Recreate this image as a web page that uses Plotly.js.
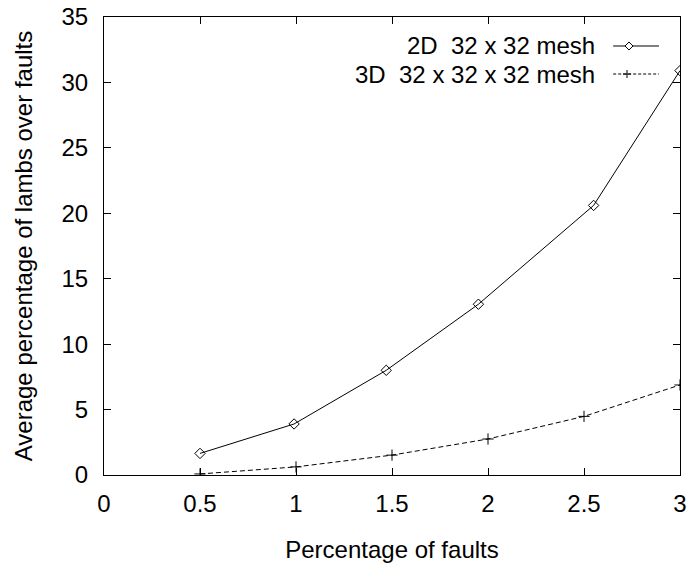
<!DOCTYPE html>
<html><head><meta charset="utf-8">
<script src="https://cdn.plot.ly/plotly-3.0.1.min.js"></script>
<style>body{margin:0;padding:0;background:#fff}#chart{width:691px;height:571px}</style>
</head><body><div id="chart"></div>
<script>
const x2d = [0.5, 0.99, 1.47, 1.95, 2.55, 3.0];
const y2d = [1.65, 3.9, 8.0, 13.05, 20.6, 30.9];
const x3d = [0.5, 1.0, 1.5, 2.0, 2.5, 3.0];
const y3d = [0.08, 0.62, 1.52, 2.75, 4.48, 6.88];
const names = ['2D\u00a0\u00a032 x 32 mesh', '3D\u00a0\u00a032 x 32 x 32 mesh'];
const xTicks = [0, 0.5, 1, 1.5, 2, 2.5, 3];
const yTicks = [0, 5, 10, 15, 20, 25, 30, 35];

const F = 'Liberation Sans, Arial, Helvetica, sans-serif';
const FS = 24;
const traces = [
  {x: x2d, y: y2d, mode: 'lines+markers', name: names[0],
   line: {color: '#000', width: 1},
   marker: {symbol: 'diamond-open', size: 8, color: '#000', line: {width: 1}}},
  {x: x3d, y: y3d, mode: 'lines+markers', name: names[1],
   line: {color: '#000', width: 1, dash: '5px,3px'},
   marker: {symbol: 'cross-thin-open', size: 8, color: '#000', line: {width: 1, color: '#000'}}}
];

const pw = 576, ph = 458;
const lx0 = 0.884, lx1 = 0.9635, ly1 = 0.9367, ly2 = 0.8755;
const dmx = 0.9115, pmx = 0.908;
const hx = 4/pw, hy = 4/ph;
const shapes = [
  {type: 'line', xref: 'paper', yref: 'paper', x0: lx0, x1: lx1, y0: ly1, y1: ly1, line: {color: '#000', width: 1}},
  {type: 'path', xref: 'paper', yref: 'paper',
   path: `M${dmx-hx},${ly1} L${dmx},${ly1+hy} L${dmx+hx},${ly1} L${dmx},${ly1-hy} Z`,
   fillcolor: '#fff', line: {color: '#000', width: 1}},
  {type: 'line', xref: 'paper', yref: 'paper', x0: lx0, x1: lx1, y0: ly2, y1: ly2, line: {color: '#000', width: 1, dash: '3px,2px'}},
  {type: 'path', xref: 'paper', yref: 'paper',
   path: `M${pmx-hx},${ly2} L${pmx+hx},${ly2} M${pmx},${ly2-hy} L${pmx},${ly2+hy}`,
   line: {color: '#000', width: 1}}
];
const annotations = [
  {xref: 'paper', yref: 'paper', x: 0.856, y: ly1, xanchor: 'right', yanchor: 'middle', showarrow: false,
   text: names[0], font: {family: F, size: FS, color: '#000'}},
  {xref: 'paper', yref: 'paper', x: 0.856, y: ly2, xanchor: 'right', yanchor: 'middle', showarrow: false,
   text: names[1], font: {family: F, size: FS, color: '#000'}}
];

const layout = {
  width: 691, height: 571,
  margin: {l: 104, r: 11, t: 17, b: 96},
  paper_bgcolor: '#fff', plot_bgcolor: '#fff',
  showlegend: false,
  font: {family: F, size: FS, color: '#000'},
  xaxis: {range: [0, 3], tickvals: xTicks, ticktext: xTicks.map(String),
    ticks: 'inside', ticklen: 7, tickcolor: '#000', mirror: 'ticks', ticklabelstandoff: 7,
    showline: true, linecolor: '#000', linewidth: 1, showgrid: false, zeroline: false,
    tickfont: {family: F, size: FS}, title: {text: 'Percentage of faults', font: {family: F, size: FS}, standoff: 25}},
  yaxis: {range: [0, 35], tickvals: yTicks, ticktext: yTicks.map(String),
    ticks: 'inside', ticklen: 7, tickcolor: '#000', mirror: 'ticks', ticklabelstandoff: 10,
    showline: true, linecolor: '#000', linewidth: 1, showgrid: false, zeroline: false,
    tickfont: {family: F, size: FS}, title: {text: 'Average percentage of lambs over faults', font: {family: F, size: FS}, standoff: 22}},
  shapes: shapes, annotations: annotations
};
Plotly.newPlot('chart', traces, layout, {displayModeBar: false, staticPlot: true});
</script></body></html>
